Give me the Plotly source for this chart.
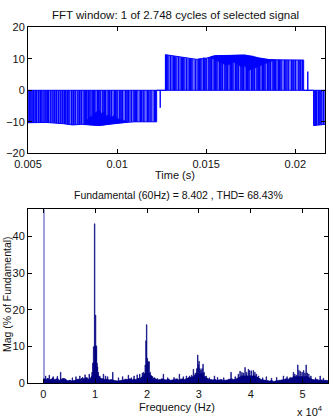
import plotly.graph_objects as go

W, H = 334, 418

# ---------------- top: time signal ----------------
time_ticks = [0.005, 0.01, 0.015, 0.02]
time_tick_text = ["0.005", "0.01", "0.015", "0.02"]
sig_ticks = [-20, -10, 0, 10, 20]

# envelope of the switched signal (s, value)
env_t = [0.005, 0.006, 0.007, 0.0075, 0.008, 0.0085, 0.009, 0.0095, 0.010, 0.0105, 0.011, 0.01222, 0.01222,
         0.01272, 0.01272, 0.0135, 0.0142, 0.0145, 0.0150, 0.0155, 0.0165, 0.0172, 0.0178, 0.0182, 0.0186,
         0.02047, 0.02047, 0.02103, 0.02103, 0.021667]
env_v = [-10.3, -10.2, -10.6, -11.0, -10.8, -11.0, -11.2, -10.8, -10.4, -10.2, -10.0, -10.0, 0,
         0, 11.3, 10.6, 9.9, 9.8, 10.2, 11.0, 11.1, 11.2, 10.3, 9.9, 9.7,
         9.6, 0, 0, -11.2, -10.8]

# dense switching bands (s, outer level, inner level)
band_neg_t = [0.0082, 0.0084, 0.0085, 0.0087, 0.0088, 0.0090, 0.0091, 0.0093, 0.0094, 0.0095,
              0.0097, 0.0098, 0.0100, 0.0101, 0.0103, 0.0106]
band_neg_outer = [-10.8, -10.9, -11.0, -11.1, -11.1, -11.2, -11.1, -11.0, -10.9, -10.8,
                  -10.7, -10.6, -10.4, -10.4, -10.3, -10.2]
band_neg_inner = [-10.0, -9.0, -8.5, -7.8, -7.0, -6.2, -7.4, -6.8, -8.2, -7.8,
                  -8.6, -8.0, -8.6, -9.2, -9.4, -10.0]
band_pos_t = [0.0153, 0.0156, 0.0158, 0.0161, 0.0163, 0.0165, 0.0167, 0.0170, 0.0172, 0.0173,
              0.0175, 0.0176, 0.0179, 0.0182, 0.0185, 0.0188]
band_pos_outer = [10.8, 10.9, 11.0, 11.0, 11.1, 11.1, 11.1, 11.2, 11.1, 11.1,
                  11.0, 10.9, 10.4, 10.0, 9.8, 9.7]
band_pos_inner = [10.2, 9.4, 9.0, 8.0, 8.2, 9.0, 8.5, 7.2, 7.8, 5.9,
                  6.6, 6.8, 7.5, 8.3, 8.9, 9.5]

# individual switching pulses (s, value)
pulse_t = [0.00506, 0.00512, 0.00522, 0.00530, 0.00540, 0.00548, 0.00560, 0.00570, 0.00578, 0.00590,
           0.00600, 0.00608, 0.00615, 0.00628, 0.00640, 0.00650, 0.00660, 0.00672, 0.00684,
           0.00695, 0.00705, 0.00712, 0.00722, 0.00730, 0.00745, 0.00755, 0.00765, 0.00780, 0.00790,
           0.00800, 0.00815, 0.00822, 0.00830, 0.00840, 0.00848, 0.00860, 0.00868, 0.00875, 0.00890,
           0.00897, 0.00905, 0.00920, 0.00928, 0.00935, 0.00950, 0.00958, 0.00968, 0.00985, 0.00992,
           0.01000, 0.01015, 0.01022, 0.01030, 0.01048, 0.01056, 0.01065, 0.01080, 0.01095, 0.01102,
           0.01110, 0.01130, 0.01138, 0.01150, 0.01170, 0.01178, 0.01190, 0.01210, 0.01216, 0.01242,
           0.01272, 0.01278, 0.01285, 0.01300, 0.01315, 0.01322, 0.01330, 0.01345, 0.01360, 0.01368,
           0.01375, 0.01390, 0.01405, 0.01412, 0.01420, 0.01440, 0.01455, 0.01462, 0.01470, 0.01485,
           0.01492, 0.01500, 0.01515, 0.01522, 0.01530, 0.01545, 0.01552, 0.01560, 0.01575, 0.01582,
           0.01590, 0.01605, 0.01612, 0.01620, 0.01635, 0.01642, 0.01650, 0.01665, 0.01672, 0.01680,
           0.01695, 0.01702, 0.01710, 0.01725, 0.01732, 0.01740, 0.01755, 0.01762, 0.01770, 0.01785,
           0.01792, 0.01800, 0.01815, 0.01822, 0.01830, 0.01845, 0.01852, 0.01860, 0.01875, 0.01882,
           0.01890, 0.01905, 0.01912, 0.01920, 0.01940, 0.01948, 0.01960, 0.01980, 0.01988, 0.02000,
           0.02020, 0.02028, 0.02040, 0.02070,
           0.02105, 0.02112, 0.02118, 0.02130, 0.02138, 0.02145, 0.02158]
pulse_v = [-10.3, -10.3, -10.3, -10.3, -10.2, -10.2, -10.2, -10.1, -10.1, -10.2,
           -10.2, -10.3, -10.3, -10.2, -10.2, -10.3, -10.4, -10.5, -10.5,
           -10.6, -10.7, -10.8, -10.8, -10.9, -11.0, -11.0, -10.9, -10.8, -10.8,
           -10.8, -10.9, -10.9, -11.0, -11.0, -11.1, -11.1, -11.1, -11.2, -11.2,
           -11.1, -11.0, -10.9, -10.9, -10.8, -10.7, -10.6, -10.5, -10.5, -10.5,
           -10.4, -10.3, -10.3, -10.2, -10.1, -10.1, -10.0, -10.0, -10.0, -10.0,
           -10.0, -10.0, -10.0, -10.0, -10.0, -10.0, -10.0, -10.0, -10.0, -5.5,
           11.3, 11.3, 11.2, 10.9, 10.8, 10.8, 10.7, 10.6, 10.5, 10.5,
           10.4, 10.2, 10.0, 10.0, 9.9, 9.8, 10.0, 10.1, 10.2, 10.4,
           10.3, 10.2, 10.5, 10.6, 10.8, 11.0, 11.0, 11.0, 11.0, 11.0,
           10.9, 11.0, 11.0, 11.1, 11.0, 11.0, 11.1, 11.2, 11.2, 11.1,
           11.0, 11.1, 11.2, 11.0, 10.9, 10.8, 10.6, 10.5, 10.4, 10.2,
           10.1, 10.0, 9.9, 9.9, 9.8, 9.7, 9.7, 9.8, 9.7, 9.7,
           9.8, 9.7, 9.7, 9.6, 9.6, 9.6, 9.6, 9.6, 9.6, 9.6,
           9.6, 9.6, 9.6, 6.0,
           -11.2, -11.1, -11.0, -11.0, -10.9, -10.8, -10.8]

# ---------------- bottom: spectrum ----------------
freq_ticks = [0, 10000, 20000, 30000, 40000, 50000]
freq_tick_text = ["0", "1", "2", "3", "4", "5"]
mag_ticks = [0, 10, 20, 30, 40]

fund_f = [60]
fund_mag = [100]

base_f = [0, 400, 700, 1000, 1400, 1700, 2000, 2400, 2900, 3300, 3700, 4100, 4500, 4900, 5300, 5700,
          6100, 6500, 6900, 7300, 7700, 8100, 8500, 8900, 9200, 9500, 9700, 10200, 10400, 10600,
          10900, 11300, 11700, 12100, 12500, 12900, 13300, 13700, 14100, 14500, 14900, 15300, 15700,
          16100, 16500, 16900, 17300, 17700, 18100, 18500, 18900, 19200, 19500, 20500, 20800, 21100,
          21500, 21900, 22300, 22700, 23100, 23500, 23900, 24300, 24700, 25100, 25500, 25900, 26300,
          26700, 27100, 27500, 27900, 28300, 28700, 29100, 29500, 30900, 31300, 31700, 32100, 32500,
          32900, 33300, 33700, 34100, 34500, 34900, 35300, 35700, 36100, 36500, 36900, 37300, 37700,
          38100, 41000, 41400, 41800, 42200, 42600, 43000, 43400, 43800, 44200, 44600, 45000, 45400,
          45800, 46200, 46600, 47000, 47400, 47800, 48200, 51000, 51400, 51800, 52200, 52600, 53000,
          53400, 53800, 54200, 54600, 55000]
base_mag = [1.2, 1.0, 1.3, 0.9, 1.1, 1.4, 1.0, 1.2, 0.8, 1.1, 1.3, 0.9, 0.7, 0.8, 0.6, 0.7,
            0.9, 1.1, 1.0, 1.3, 1.2, 1.5, 1.1, 1.4, 1.8, 2.2, 3.0, 2.6, 2.0, 1.6,
            1.3, 1.2, 1.0, 1.1, 0.9, 1.0, 0.8, 0.7, 0.6, 0.7, 0.8, 0.9, 1.1,
            1.0, 1.2, 0.9, 1.1, 1.0, 1.3, 1.4, 1.7, 2.0, 2.6, 2.2, 1.8, 1.4,
            1.1, 0.9, 1.0, 1.2, 1.0, 0.9, 1.1, 0.8, 0.9, 1.0, 1.2, 0.9, 1.1,
            1.2, 1.0, 1.3, 1.5, 1.6, 1.8, 2.2, 2.6, 1.8, 1.4, 1.1, 1.0, 0.9,
            1.0, 0.8, 0.9, 1.0, 0.7, 0.8, 0.9, 1.1, 1.2, 1.0, 1.1, 1.4, 1.6,
            2.0, 1.6, 1.3, 1.0, 0.9, 0.8, 0.7, 0.6, 0.7, 0.5, 0.6, 0.7, 0.8,
            0.9, 1.0, 1.2, 1.1, 1.3, 1.5, 1.8, 1.5, 1.2, 1.0, 0.9, 1.0, 0.8,
            0.9, 0.7, 0.8, 0.7, 0.8]

spike_f = [450, 1150, 1900, 2700, 3350, 4300, 5600, 6300, 7050, 7600, 8050, 8850, 9400, 9550, 9700,
           9780, 9900, 10000, 10080, 10160, 10250, 10350, 10450, 10600, 10900, 11600, 12000, 12400, 13400,
           14500, 15300, 16400, 17000, 17500, 18100, 18600, 19100, 19300, 19500, 19650, 19800, 19930,
           20050, 20150, 20250, 20400, 20600, 20900, 21500, 22000, 23150, 24000, 25200, 26240, 27000,
           27600, 28200, 28600, 28940, 29300, 29600, 29780, 29900, 30030, 30200, 30400, 30600, 30800,
           31000, 31400, 32000, 33000, 33600, 34800, 36200, 37000, 37600, 37940, 38300, 38600, 38900,
           39200, 39550, 39800, 40100, 40500, 40800, 41100, 41500, 42300, 43000, 44000, 45000, 46300,
           47000, 47600, 48230, 48500, 48800, 49070, 49300, 49600, 49900, 50200, 50450, 50680, 50900,
           51200, 51600, 52500, 53380, 54000]
spike_mag = [2.0, 2.2, 1.8, 1.9, 3.0, 1.2, 1.5, 1.8, 2.0, 1.6, 2.3, 2.5, 3.0, 5.5, 10.0,
             5.8, 43.5, 10.2, 18.6, 9.5, 10.2, 5.5, 4.5, 3.0, 2.0, 2.5, 2.0, 1.8, 3.0,
             1.5, 1.8, 2.2, 1.5, 2.0, 2.3, 2.5, 2.8, 3.0, 2.6, 5.0, 11.6, 16.0,
             6.8, 5.5, 5.9, 5.9, 3.0, 2.0, 1.5, 1.3, 2.5, 1.5, 1.6, 2.5, 1.8,
             2.0, 2.0, 2.2, 3.8, 2.8, 4.0, 7.7, 5.0, 6.0, 4.0, 3.5, 4.0, 5.2,
             3.0, 2.0, 1.5, 2.0, 1.6, 1.5, 3.0, 1.8, 2.5, 3.3, 3.0, 2.8, 4.3,
             3.0, 3.8, 3.5, 3.4, 3.5, 3.0, 2.5, 2.0, 1.5, 1.8, 1.4, 1.6, 2.0,
             1.8, 1.6, 3.0, 2.5, 2.2, 5.0, 3.5, 3.2, 3.0, 3.5, 2.8, 5.0, 2.8,
             2.5, 2.0, 1.5, 2.0, 1.4]

# ---------------- build figure ----------------
def px_x(x):
    return x / W

def px_y(y):
    return 1 - y / H

BLUE = "#0000ff"
NAVY = "rgb(0,0,128)"
FONT = "Liberation Sans, Arial, Helvetica, sans-serif"

fig = go.Figure()

# envelope area (light blue) of the switched signal
fig.add_trace(go.Scatter(x=env_t, y=env_v, mode="lines", fill="tozeroy",
                         fillcolor="rgb(105,105,255)",
                         line=dict(color=BLUE, width=1), xaxis="x", yaxis="y",
                         hoverinfo="skip", showlegend=False))

# dense switching bands (dark)
for bt, bo, bi in ((band_neg_t, band_neg_outer, band_neg_inner),
                   (band_pos_t, band_pos_outer, band_pos_inner)):
    fig.add_trace(go.Scatter(x=bt + bt[::-1], y=bo + bi[::-1], mode="lines", fill="toself",
                             fillcolor=BLUE, line=dict(color=BLUE, width=0.5),
                             xaxis="x", yaxis="y", hoverinfo="skip", showlegend=False))

# zero level of the signal
fig.add_trace(go.Scatter(x=[time_ticks[0], env_t[-1]], y=[0, 0], mode="lines",
                         line=dict(color=BLUE, width=1), xaxis="x", yaxis="y",
                         hoverinfo="skip", showlegend=False))

# pulses as vertical strokes
px_, py_ = [], []
for t, v in zip(pulse_t, pulse_v):
    px_ += [t, t, None]
    py_ += [0, v, None]
fig.add_trace(go.Scatter(x=px_, y=py_, mode="lines", line=dict(color=BLUE, width=1.4),
                         xaxis="x", yaxis="y", connectgaps=False,
                         hoverinfo="skip", showlegend=False))

# spectrum floor
fig.add_trace(go.Scatter(x=base_f, y=base_mag, mode="lines", line_shape="hv", fill="tozeroy",
                         fillcolor=NAVY, line=dict(color=NAVY, width=0.8),
                         xaxis="x2", yaxis="y2", hoverinfo="skip", showlegend=False))
# spectrum spikes
fig.add_trace(go.Bar(x=spike_f, y=spike_mag, width=110,
                     marker=dict(color=NAVY, line=dict(color=NAVY, width=0.6)),
                     xaxis="x2", yaxis="y2", hoverinfo="skip", showlegend=False))
# fundamental (clipped, 100%)
fig.add_trace(go.Bar(x=fund_f, y=fund_mag, width=200,
                     marker=dict(color="rgb(160,160,220)", line=dict(width=0)),
                     xaxis="x2", yaxis="y2", hoverinfo="skip", showlegend=False))

axis_common = dict(showgrid=False, zeroline=False, showline=True, linecolor="#000", linewidth=1,
                   mirror="ticks", ticks="inside", ticklen=4, tickcolor="#000", tickwidth=1,
                   automargin=False,
                   tickfont=dict(family=FONT, size=11, color="#111"))

fig.update_layout(
    width=W, height=H, margin=dict(l=0, r=0, t=0, b=0, autoexpand=False),
    paper_bgcolor="white", plot_bgcolor="white", barmode="overlay",
    xaxis=dict(domain=[px_x(28), px_x(325)], range=[0.005, 0.021667], anchor="y",
               tickvals=time_ticks, ticktext=time_tick_text, **axis_common),
    yaxis=dict(domain=[px_y(153.3), px_y(27.3)], range=[-20, 20], anchor="x",
               tickvals=sig_ticks, **axis_common),
    xaxis2=dict(domain=[px_x(28), px_x(328.3)], range=[-2950, 54950], anchor="y2",
                tickvals=freq_ticks, ticktext=freq_tick_text, **axis_common),
    yaxis2=dict(domain=[px_y(383.3), px_y(209.3)], range=[0, 47.45], anchor="x2",
                tickvals=mag_ticks, **axis_common),
)

def label(text, x, y, size=11, angle=0, xanchor="center"):
    fig.add_annotation(text=text, x=px_x(x), y=px_y(y), xref="paper", yref="paper",
                       showarrow=False, xanchor=xanchor, yanchor="middle", textangle=angle,
                       font=dict(family=FONT, size=size, color="#111"))

label("FFT window: 1 of 2.748 cycles of selected signal", 175, 15, size=11.5)
label("Time (s)", 175, 175.5, size=11)
label("Fundamental (60Hz) = 8.402 , THD= 68.43%", 178, 195, size=10.5)
label("Frequency (Hz)", 177, 406.5, size=11)
label("x 10<sup>4</sup>", 325, 411, size=11, xanchor="right")
label("Mag (% of Fundamental)", 7, 294, size=10.5, angle=-90)

fig.write_html("out.html")
